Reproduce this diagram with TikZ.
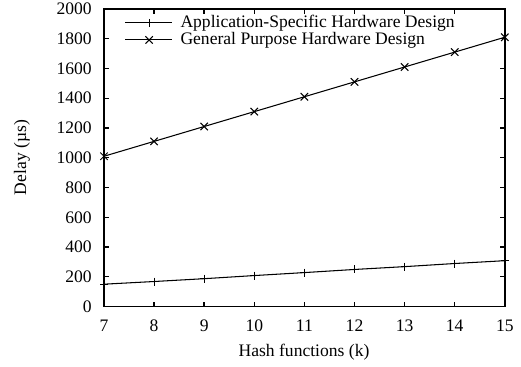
\documentclass[tikz,border=0pt]{standalone}
\usepackage{fontspec}
\setmainfont{Liberation Serif}
\begin{document}
\begin{tikzpicture}[font=\fontsize{10}{12}\selectfont,
  frame/.style={line width=0.8pt},
  curve/.style={line width=0.6pt},
  ticklab/.style={inner sep=0pt}]
\useasboundingbox (0,0) rectangle (10.42,7.32);
\begin{scope}[x=1.002cm,y=0.002975cm,xshift=-4.934cm,yshift=1.19cm]
% frame
\coordinate (ll) at (7,0);
\coordinate (ur) at (15,2000);
\draw[frame] (ll) rectangle (ur);
% x ticks
\foreach \k in {7,...,15}{
  \draw[frame] (\k,0) -- ++(0,0.1cm);
  \draw[frame] (\k,2000) -- ++(0,-0.1cm);
  \node[ticklab,yshift=-0.39cm] (xl\k) at (\k,0) {\k};
}
% y ticks
\foreach \v in {0,200,...,2000}{
  \draw[frame] (7,\v) -- ++(0.1cm,0);
  \draw[frame] (15,\v) -- ++(-0.1cm,0);
  \node[ticklab,anchor=east,xshift=-0.24cm] (yl\v) at (7,\v) {\v};
}
% data
\draw[curve] plot[mark=+,mark size=0.08cm] coordinates {(7,150) (8,168) (9,187) (10,208) (11,228) (12,249) (13,268) (14,289) (15,308)};
\draw[curve] plot[mark=x,mark size=0.105cm] coordinates {(7,1010) (8,1110) (9,1210) (10,1310) (11,1410) (12,1510) (13,1610) (14,1710) (15,1810)};
% legend
\coordinate (asicA) at (7.42,1906);
\coordinate (asicB) at (8.357,1906);
\draw[curve] (asicA) -- (asicB);
\draw[curve] plot[mark=+,mark size=0.08cm] coordinates {(7.9,1906)};
\node[ticklab,anchor=west] (asiclab) at (8.52,1906) {Application-Specific Hardware Design};
\coordinate (gpA) at (7.42,1792);
\coordinate (gpB) at (8.357,1792);
\draw[curve] (gpA) -- (gpB);
\draw[curve] plot[mark=x,mark size=0.105cm] coordinates {(7.9,1792)};
\node[ticklab,anchor=west] (gplab) at (8.52,1792) {General Purpose Hardware Design};
\end{scope}
% axis labels
\node[rotate=90] (ylab) at (0.44,4.17) {Delay (µs)};
\node (xlab) at (6.08,0.28) {Hash functions (k)};
\end{tikzpicture}
\end{document}
